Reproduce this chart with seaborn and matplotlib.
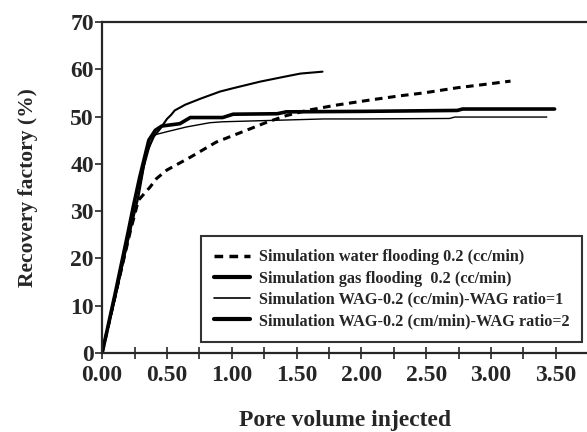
# recovery factor vs pore volume injected, four simulation runs

import pandas as pd
import seaborn as sns
import matplotlib.pyplot as plt
from matplotlib.ticker import MultipleLocator

water_x = [0, 0.05, 0.10, 0.16, 0.22, 0.28, 0.37, 0.42, 0.50, 0.60, 0.68, 0.78, 0.88, 1.01,
           1.15, 1.27, 1.42, 1.58, 1.80, 2.09, 2.30, 2.48, 2.74, 2.95, 3.15]
water_y = [0, 6, 12, 19, 26, 32.3, 35.1, 36.9, 38.7, 40.2, 41.4, 43.0, 44.6, 46.0,
           47.5, 48.8, 50.2, 51.3, 52.4, 53.6, 54.4, 55.0, 56.1, 56.8, 57.5]

gas_x = [0, 0.10, 0.20, 0.24, 0.29, 0.36, 0.41, 0.46, 0.60, 0.68, 0.93, 1.01, 1.35, 1.42,
         2.00, 2.74, 2.78, 3.49]
gas_y = [0, 12.5, 25.5, 30.9, 37.2, 45.0, 47.1, 48.0, 48.5, 49.8, 49.8, 50.5, 50.6, 51.0,
         51.1, 51.3, 51.6, 51.6]

wag1_x = [0, 0.10, 0.20, 0.26, 0.32, 0.37, 0.40, 0.50, 0.65, 0.83, 0.93, 1.32, 1.71, 2.00,
          2.68, 2.72, 3.43]
wag1_y = [0, 11.5, 23.5, 31.0, 39.0, 44.0, 46.1, 46.8, 47.8, 48.7, 48.9, 49.2, 49.5, 49.5,
          49.6, 49.9, 49.9]

wag2_x = [0, 0.10, 0.20, 0.28, 0.34, 0.40, 0.45, 0.50, 0.53, 0.56, 0.64, 0.76, 0.91, 1.01,
          1.22, 1.40, 1.53, 1.70]
wag2_y = [0, 11.5, 24.0, 33.0, 42.2, 45.8, 47.5, 49.5, 50.3, 51.3, 52.5, 53.8, 55.3, 56.0,
          57.4, 58.4, 59.1, 59.5]

labels = ["Simulation water flooding 0.2 (cc/min)",
          "Simulation gas flooding  0.2 (cc/min)",
          "Simulation WAG-0.2 (cc/min)-WAG ratio=1",
          "Simulation WAG-0.2 (cm/min)-WAG ratio=2"]

sns.set_style("ticks")
plt.rcParams['font.family'] = ['Liberation Serif', 'DejaVu Serif']
plt.rcParams['font.weight'] = 'bold'
plt.rcParams['axes.labelweight'] = 'bold'

fig = plt.figure(figsize=(5.87, 4.32), dpi=100)
ax = fig.add_axes([0.174, 0.183, 0.826, 0.766])

series = [(water_x, water_y, dict(color='black', lw=2.2, linestyle=(0, (2.5, 1.8)))),
          (gas_x, gas_y, dict(color='black', lw=2.6)),
          (wag1_x, wag1_y, dict(color='black', lw=1.0)),
          (wag2_x, wag2_y, dict(color='black', lw=1.5))]
for (xs, ys, style), lab in zip(series, labels):
    df = pd.DataFrame({'pv': xs, 'rf': ys})
    sns.lineplot(data=df, x='pv', y='rf', ax=ax, estimator=None, sort=False, label=lab, **style)

# legend handles in the original are drawn thicker than the curves
leg = ax.legend(loc='lower right', bbox_to_anchor=(0.99, 0.033), fontsize=11.7,
                frameon=True, fancybox=False, handlelength=2.2, borderpad=0.8,
                labelspacing=0.32, handletextpad=0.55, borderaxespad=0)
leg.get_frame().set_edgecolor('black')
leg.get_frame().set_linewidth(1.5)
for h, w in zip(leg.get_lines(), [2.5, 3.0, 1.2, 3.0]):
    h.set_linewidth(w)

ax.set_xlim(0, 3.74)
ax.set_ylim(0, 70)
ax.xaxis.set_major_locator(MultipleLocator(0.5))
ax.xaxis.set_minor_locator(MultipleLocator(0.25))
ax.yaxis.set_major_locator(MultipleLocator(10))
ax.xaxis.set_major_formatter(lambda v, p: f"{v:.2f}")

ax.tick_params(axis='x', which='both', direction='inout', length=8, width=1.2,
               labelsize=17, pad=5)
ax.tick_params(axis='y', direction='out', length=5, width=1.2, labelsize=17, pad=1)
for lbl in ax.get_xticklabels() + ax.get_yticklabels():
    lbl.set_fontweight('bold')

for s in ['left', 'bottom', 'top']:
    ax.spines[s].set_linewidth(1.6)
ax.spines['right'].set_visible(False)

ax.set_xlabel("Pore volume injected", fontsize=17, labelpad=17)
ax.set_ylabel("Recovery factory (%)", fontsize=15.5, labelpad=23)

plt.savefig("out.png", dpi=100)
